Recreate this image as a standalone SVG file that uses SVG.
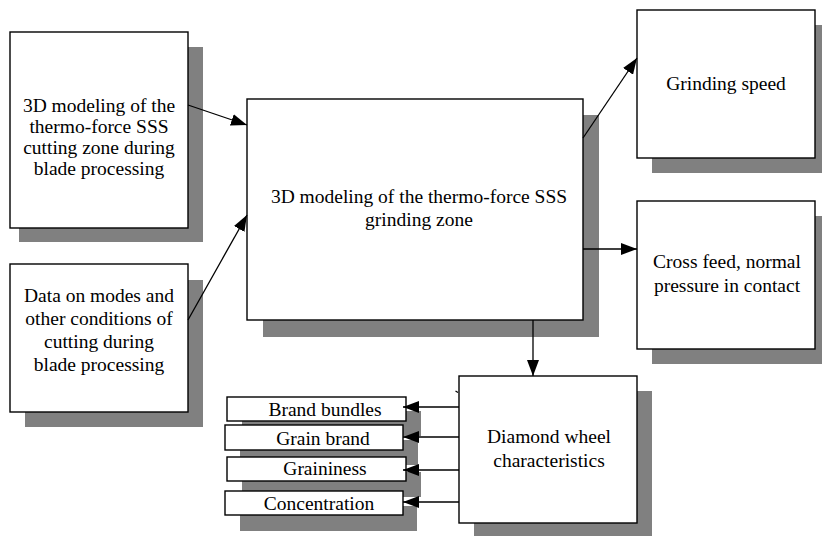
<svg xmlns="http://www.w3.org/2000/svg" width="822" height="536" viewBox="0 0 822 536">
<style>
.sh{fill:#808080;stroke:none}
.bx{fill:#fff;stroke:#000;stroke-width:1.4}
text{font-family:"Liberation Serif","Times New Roman",serif;font-size:19.5px;fill:#000;text-anchor:middle}
.cn{stroke:#000;stroke-width:1.3;fill:none}
</style>
<defs>
<marker id="ah" markerWidth="16" markerHeight="12" refX="16" refY="6" orient="auto" markerUnits="userSpaceOnUse">
<path d="M0,0 L16,6 L0,12 Z" fill="#000"/>
</marker>
</defs>
<rect width="822" height="536" fill="#fff"/>
<g id="n1">
<rect class="sh" x="19" y="47" width="184" height="195"/>
<rect class="bx" x="10" y="32" width="178" height="196"/>
<text x="99" y="112">3D modeling of the</text>
<text x="99" y="133">thermo-force SSS</text>
<text x="99" y="154">cutting zone during</text>
<text x="99" y="175">blade processing</text>
</g>
<g id="n2">
<rect class="sh" x="25" y="280" width="178" height="147"/>
<rect class="bx" x="10" y="264" width="178" height="148"/>
<text x="99" y="302">Data on modes and</text>
<text x="99" y="325">other conditions of</text>
<text x="99" y="348">cutting during</text>
<text x="99" y="371">blade processing</text>
</g>
<g id="main">
<rect class="sh" x="263" y="115" width="336" height="222"/>
<rect class="bx" x="247" y="99" width="336" height="221"/>
<text x="419" y="203">3D modeling of the thermo-force SSS</text>
<text x="419" y="226">grinding zone</text>
</g>
<g id="speed">
<rect class="sh" x="652" y="25" width="175" height="148"/>
<rect class="bx" x="637" y="10" width="178" height="148"/>
<text x="726" y="90">Grinding speed</text>
</g>
<g id="feed">
<rect class="sh" x="652" y="216" width="175" height="148"/>
<rect class="bx" x="637" y="201" width="178" height="148"/>
<text x="727" y="268">Cross feed, normal</text>
<text x="727" y="292">pressure in contact</text>
</g>
<g id="diamond">
<rect class="sh" x="474" y="391" width="178" height="145"/>
<rect class="bx" x="459" y="376" width="178" height="147"/>
<text x="549" y="443">Diamond wheel</text>
<text x="549" y="467">characteristics</text>
</g>
<g id="bundles">
<rect class="sh" x="242" y="411" width="179" height="25"/>
</g>
<g id="grainbrand">
<rect class="sh" x="240" y="440" width="178" height="25"/>
</g>
<g id="graininess">
<rect class="sh" x="242" y="472" width="179" height="25"/>
</g>
<g id="concentration">
<rect class="sh" x="240" y="506" width="177" height="25"/>
</g>
<g id="bundles-box">
<rect class="bx" x="227" y="397" width="179" height="24"/>
<text x="325" y="416">Brand bundles</text>
</g>
<g id="grainbrand-box">
<rect class="bx" x="225" y="425" width="178" height="25"/>
<text x="323" y="445">Grain brand</text>
</g>
<g id="graininess-box">
<rect class="bx" x="227" y="457" width="179" height="24"/>
<text x="325" y="475">Graininess</text>
</g>
<g id="concentration-box">
<rect class="bx" x="225" y="491" width="178" height="24"/>
<text x="319" y="510">Concentration</text>
</g>
<g id="connectors">
<line class="cn" x1="188" y1="105" x2="247" y2="125" marker-end="url(#ah)"/>
<line class="cn" x1="188" y1="320" x2="247" y2="215" marker-end="url(#ah)"/>
<line class="cn" x1="583" y1="138" x2="637" y2="58" marker-end="url(#ah)"/>
<line class="cn" x1="583" y1="249" x2="637" y2="249" marker-end="url(#ah)"/>
<line class="cn" x1="533" y1="320" x2="533" y2="376" marker-end="url(#ah)"/>
<line class="cn" x1="459" y1="407" x2="403" y2="407" marker-end="url(#ah)"/>
<line class="cn" x1="459" y1="437" x2="403" y2="437" marker-end="url(#ah)"/>
<line class="cn" x1="459" y1="470" x2="403" y2="470" marker-end="url(#ah)"/>
<line class="cn" x1="459" y1="502" x2="403" y2="502" marker-end="url(#ah)"/>
<path class="cn" d="M455.5,391 L458,392.5"/>
</g>
</svg>
